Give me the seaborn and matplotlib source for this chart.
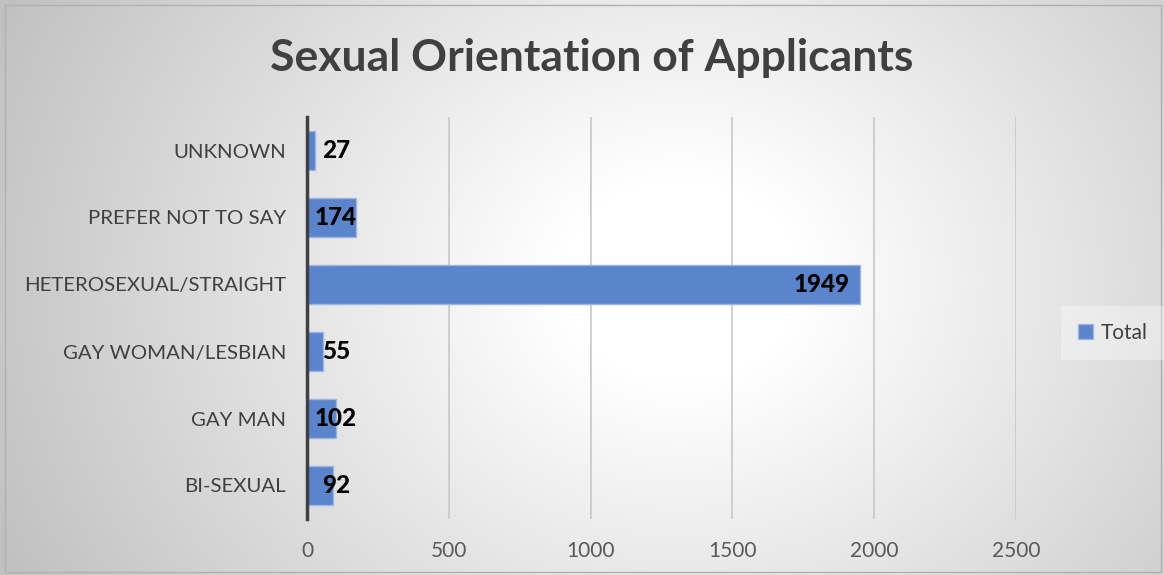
import numpy as np
import pandas as pd
import matplotlib
matplotlib.use("Agg")
import matplotlib.pyplot as plt
import seaborn as sns
from matplotlib.patches import Patch, Rectangle

categories = ["UNKNOWN", "PREFER NOT TO SAY", "HETEROSEXUAL/STRAIGHT",
              "GAY WOMAN/LESBIAN", "GAY MAN", "BI-SEXUAL"]
values = [27, 174, 1949, 55, 102, 92]
series_name = "Total"
x_ticks = [0, 500, 1000, 1500, 2000, 2500]

sns.set_theme(style="white")
plt.rcParams['font.family'] = ['Lato', 'DejaVu Sans']

W, H = 1164, 575
fig = plt.figure(figsize=(W / 100, H / 100), dpi=100)

# radial gradient background
bg = fig.add_axes([0, 0, 1, 1], zorder=-10)
yy, xx = np.mgrid[0:H, 0:W]
r = np.sqrt(((xx - 680) / 1.0) ** 2 + ((yy - 280) / 0.85) ** 2)
v = 1 - 0.24 * np.clip((r - 120) / 620, 0, 1)
img = np.dstack([v, v, v])
bg.imshow(img, aspect='auto', extent=[0, 1, 0, 1], origin='upper')
bg.set_axis_off()
fig.patches.append(Rectangle((0.004, 0.006), 0.993, 0.986, transform=fig.transFigure,
                             fill=False, edgecolor='#b0b0b0', lw=1, zorder=5))

ax = fig.add_axes([307 / W, 1 - 519 / H, (1016 - 307) / W, (519 - 117) / H])
ax.set_facecolor('none')

df = pd.DataFrame({"category": categories, "value": values, "series": series_name})
sns.barplot(data=df, y="category", x="value", hue="series", dodge=False,
            palette=["#5A84CB"], order=categories, width=0.57,
            edgecolor="#9DB5E0", linewidth=1, ax=ax, legend=False, saturation=1)

ax.set_xlim(0, 2500)
ax.set_xticks(x_ticks)
ax.set_xticklabels([str(t) for t in x_ticks], fontsize=15, color='#595959')
ax.tick_params(axis='x', length=0, pad=16)
ax.tick_params(axis='y', length=0, pad=15)
for lab in ax.get_yticklabels():
    lab.set_fontsize(14.7)
    lab.set_color('#404040')
ax.set_xlabel("")
ax.set_ylabel("")
for s in ["top", "right", "bottom"]:
    ax.spines[s].set_visible(False)
ax.spines["left"].set_color('#404040')
ax.spines["left"].set_linewidth(2.5)
ax.spines["left"].set_zorder(4)
for t in x_ticks[1:]:
    ax.axvline(t, color='#c8c8c8', lw=1.2, zorder=0)

for i, v in enumerate(values):
    if v > 500:
        ax.text(v - 35, i, str(v), ha='right', va='center', fontsize=17.5,
                fontweight='black', color='black', zorder=6)
    else:
        ax.text(102, i, str(v), ha='center', va='center', fontsize=17.5,
                fontweight='black', color='black', zorder=6)

fig.text(592 / W, 1 - 58 / H, "Sexual Orientation of Applicants", ha='center', va='center',
         fontsize=32, fontweight='bold', color='#404040')

leg = fig.legend(handles=[Patch(facecolor="#5A84CB", edgecolor="#9DB5E0", label=series_name)],
                 loc='center', bbox_to_anchor=(1113 / W, 1 - 333 / H), frameon=True,
                 fontsize=15, handlelength=0.7, handleheight=0.7, handletextpad=0.4,
                 borderpad=0.5, labelcolor='#404040')
leg.get_frame().set_facecolor('white')
leg.get_frame().set_alpha(0.35)
leg.get_frame().set_edgecolor('none')
leg.get_frame().set_boxstyle('square')

fig.savefig("out.png", dpi=100)
